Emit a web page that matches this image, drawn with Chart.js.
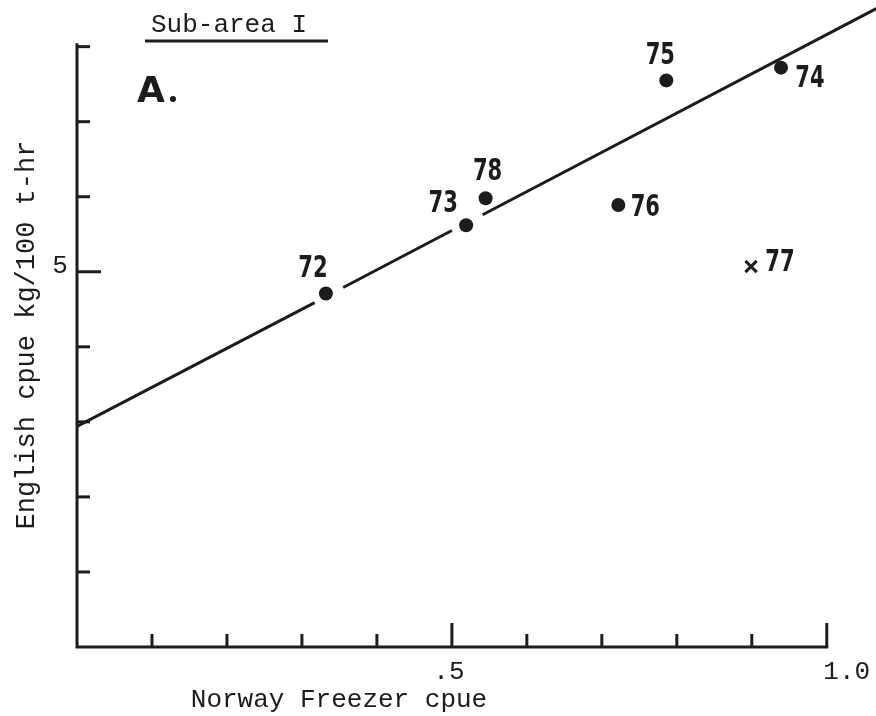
<!DOCTYPE html>
<html>
<head>
<meta charset="utf-8">
<title>Sub-area I</title>
<script src="https://cdn.jsdelivr.net/npm/chart.js@4/dist/chart.umd.min.js"></script>
<style>
  html, body { margin: 0; padding: 0; background: #fff; }
  #wrap { width: 876px; height: 716px; position: relative; }
</style>
</head>
<body>
<div id="wrap"><canvas id="cpueChart"></canvas></div>
<script>
// years plotted as filled dots
const years = ["72", "73", "74", "75", "76", "78"];
const norwayCpue = [0.332, 0.519, 0.939, 0.786, 0.722, 0.545];
const englishCpue = [4.71, 5.62, 7.72, 7.55, 5.89, 5.98];

// 1977 shown with a cross, left out of the fit
const outlierYears = ["77"];
const outlierNorway = [0.899];
const outlierEnglish = [5.07];

// fitted line, broken where it passes the 72 and 73 dots
const fitX = [0, 0.317, 0.335, 0.355, 0.5, 0.52, 0.541, 1.08];
const fitY = [2.94, 4.59, null, 4.79, 5.55, null, 5.76, 8.58];

// axis ticks
const xTicks = [0.1, 0.2, 0.3, 0.4, 0.5, 0.6, 0.7, 0.8, 0.9, 1.0];
const yTicks = [1, 2, 3, 4, 5, 6, 7, 8];
const xTickLabels = [".5", "1.0"];
const xLabelledAt = [0.5, 1.0];
const yTickLabels = ["5"];
const yLabelledAt = [5];

const INK = "#1c1c1c";
const MONO = "'Liberation Mono', 'DejaVu Sans Mono', monospace";

// offsets of the year labels from their dots (px)
const labelOffsets = {
  "72": [-13, -25], "73": [-23, -21], "74": [29, 11], "75": [-6, -24],
  "76": [27, 3], "78": [2, -26], "77": [29, -4]
};

function drawYear(ctx, text, x, y) {
  ctx.save();
  ctx.translate(x, y);
  ctx.scale(0.68, 1);
  ctx.font = "bold 31px 'DejaVu Sans', sans-serif";
  ctx.textAlign = "center";
  ctx.textBaseline = "middle";
  ctx.fillStyle = INK;
  ctx.fillText(text, 0, 0);
  ctx.restore();
}

const axesPlugin = {
  id: "handAxes",
  beforeDatasetsDraw(chart) {
    const { ctx } = chart;
    const xs = chart.scales.x, ys = chart.scales.y;
    const x0 = xs.getPixelForValue(0), y0 = ys.getPixelForValue(0);
    const xEnd = xs.getPixelForValue(1.0), yTop = ys.getPixelForValue(8);

    ctx.save();
    ctx.strokeStyle = INK;
    ctx.lineWidth = 3;
    ctx.lineCap = "square";
    ctx.beginPath();
    ctx.moveTo(x0, yTop - 2);
    ctx.lineTo(x0, y0);
    ctx.lineTo(xEnd, y0);
    ctx.stroke();

    ctx.lineCap = "butt";
    yTicks.forEach(v => {
      const py = ys.getPixelForValue(v);
      const len = yLabelledAt.includes(v) ? 24 : 13;
      ctx.beginPath();
      ctx.moveTo(x0, py);
      ctx.lineTo(x0 + len, py);
      ctx.stroke();
    });
    xTicks.forEach(v => {
      const px = xs.getPixelForValue(v);
      const len = xLabelledAt.includes(v) ? 24 : 13;
      ctx.beginPath();
      ctx.moveTo(px, y0);
      ctx.lineTo(px, y0 - len);
      ctx.stroke();
    });

    // tick labels
    ctx.fillStyle = INK;
    ctx.font = "26px " + MONO;
    ctx.textBaseline = "alphabetic";
    ctx.textAlign = "center";
    xLabelledAt.forEach((v, i) => {
      const px = xs.getPixelForValue(v);
      const shift = xTickLabels[i].length > 2 ? 20 : -3;
      ctx.fillText(xTickLabels[i], px + shift, y0 + 32);
    });
    yLabelledAt.forEach((v, i) => {
      ctx.fillText(yTickLabels[i], x0 - 17, ys.getPixelForValue(v) + 1);
    });

    // axis titles
    ctx.fillText("Norway Freezer cpue", 339, 707);
    ctx.save();
    ctx.font = "27px " + MONO;
    ctx.translate(34, 335);
    ctx.rotate(-Math.PI / 2);
    ctx.fillText("English cpue kg/100 t-hr", 0, 0);
    ctx.restore();

    // panel heading
    ctx.textAlign = "left";
    ctx.fillText("Sub-area I", 151, 32);
    ctx.beginPath();
    ctx.moveTo(145, 41);
    ctx.lineTo(328, 41);
    ctx.stroke();

    ctx.font = "bold 36px 'DejaVu Sans', sans-serif";
    ctx.fillText("A", 137, 102);
    ctx.beginPath();
    ctx.arc(173, 99, 3, 0, Math.PI * 2);
    ctx.fill();
    ctx.restore();
  },
  afterDatasetsDraw(chart) {
    const { ctx } = chart;
    chart.getDatasetMeta(0).data.forEach((p, i) => {
      const off = labelOffsets[years[i]];
      drawYear(ctx, years[i], p.x + off[0], p.y + off[1]);
    });
    chart.getDatasetMeta(1).data.forEach((p, i) => {
      const off = labelOffsets[outlierYears[i]];
      drawYear(ctx, outlierYears[i], p.x + off[0], p.y + off[1]);
    });
  }
};

new Chart(document.getElementById("cpueChart"), {
  type: "scatter",
  data: {
    datasets: [
      {
        label: "years",
        data: norwayCpue.map((x, i) => ({ x: x, y: englishCpue[i] })),
        pointStyle: "circle",
        pointRadius: 7,
        pointBackgroundColor: INK,
        pointBorderColor: INK,
        pointBorderWidth: 0
      },
      {
        label: "1977",
        data: outlierNorway.map((x, i) => ({ x: x, y: outlierEnglish[i] })),
        pointStyle: "crossRot",
        pointRadius: 8,
        pointBorderColor: INK,
        pointBorderWidth: 3
      },
      {
        label: "fit",
        data: fitX.map((x, i) => ({ x: x, y: fitY[i] })),
        showLine: true,
        spanGaps: false,
        clip: false,
        borderColor: INK,
        borderWidth: 3,
        pointRadius: 0
      }
    ]
  },
  options: {
    responsive: true,
    maintainAspectRatio: false,
    animation: false,
    layout: { padding: { left: 77, right: 0, top: 0, bottom: 69 } },
    plugins: { legend: { display: false }, tooltip: { enabled: false } },
    scales: {
      // chart area runs 77..868 across and 8..647 down (Chart.js keeps ~8px for the dots)
      x: { type: "linear", min: 0, max: 1.051, display: false },
      y: { type: "linear", min: 0, max: 8.475, display: false }
    }
  },
  plugins: [axesPlugin]
});
</script>
</body>
</html>
